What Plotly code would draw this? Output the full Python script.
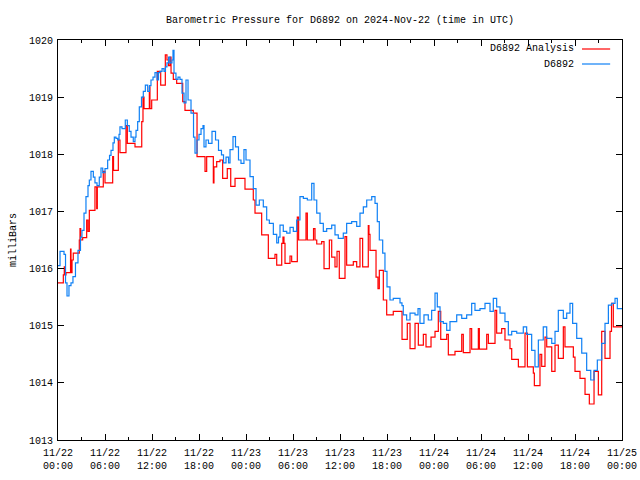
import datetime as dt
import plotly.graph_objects as go

# ---- data (hours after 2024-11-22 00:00 UTC, pressure in mb) ----
analysis_hours = [0.00, 0.68, 0.80, 0.89, 1.02, 1.60, 1.66, 1.79, 1.95, 2.72, 2.81, 2.90, 3.15, 3.66, 3.83,
                  4.00, 4.72, 4.94, 5.02, 5.78, 6.00, 6.98, 7.09, 7.70, 7.91, 8.68, 8.85, 9.83, 10.69, 10.85,
                  10.98, 11.66, 11.74, 11.96, 12.68, 13.11, 13.70, 13.91, 14.11, 14.30, 14.43, 14.72, 15.15,
                  15.92, 16.21, 17.27, 17.75, 18.77, 18.98, 19.83, 19.91, 20.26, 20.68, 21.02, 21.61, 22.05,
                  22.60, 23.87, 24.93, 25.15, 26.00, 26.85, 27.70, 27.92, 28.56, 28.72, 28.85, 28.98, 29.62,
                  29.83, 30.55, 30.72, 31.66, 31.83, 32.62, 32.81, 33.03, 33.66, 33.96, 34.64, 34.94, 35.36,
                  35.62, 35.91, 36.64, 36.85, 37.70, 38.13, 38.55, 38.89, 39.61, 39.70, 39.83, 40.60, 40.85,
                  41.02, 41.53, 41.96, 42.80, 43.66, 43.92, 44.59, 44.94, 45.58, 46.00, 46.64, 46.98, 47.62,
                  48.13, 48.55, 48.86, 49.62, 49.83, 50.68, 51.54, 51.74, 52.60, 52.81, 53.66, 53.79, 54.73,
                  54.94, 55.79, 56.00, 56.64, 57.06, 57.70, 57.92, 58.77, 59.62, 59.92, 60.68, 60.81, 61.53,
                  61.75, 62.17, 62.39, 63.03, 63.45, 63.87, 64.51, 64.72, 65.79, 66.00, 66.64, 67.28, 67.83,
                  68.43, 68.98, 69.41, 69.83, 70.47, 70.66, 70.89, 72.00]
analysis_mb = [1015.75, 1015.89, 1016.03, 1015.89, 1015.93, 1016.34, 1015.93, 1016.15, 1016.27, 1016.50, 1016.70,
               1016.50, 1016.54, 1016.85, 1016.65, 1017.02, 1017.43, 1017.05, 1017.43, 1017.70, 1017.50, 1017.96,
               1017.72, 1018.25, 1018.03, 1018.50, 1018.19, 1018.13, 1018.57, 1019.00, 1018.80, 1019.18, 1018.80,
               1018.95, 1019.45, 1019.21, 1019.74, 1019.65, 1019.55, 1019.70, 1019.42, 1019.31, 1019.24, 1018.92,
               1018.77, 1018.72, 1017.96, 1017.70, 1017.96, 1017.50, 1017.78, 1017.87, 1017.90, 1017.58, 1017.75,
               1017.44, 1017.58, 1017.39, 1017.20, 1016.97, 1016.59, 1016.18, 1016.25, 1016.06, 1016.44, 1016.55,
               1016.44, 1016.09, 1016.22, 1016.12, 1016.90, 1016.50, 1016.97, 1016.50, 1016.70, 1016.50, 1016.43,
               1016.47, 1016.00, 1016.50, 1016.20, 1016.03, 1016.30, 1015.83, 1016.56, 1016.06, 1016.12, 1016.03,
               1016.53, 1016.03, 1016.75, 1016.60, 1016.32, 1015.85, 1015.65, 1015.97, 1015.45, 1015.19, 1015.25,
               1015.25, 1014.76, 1015.04, 1014.60, 1015.04, 1014.66, 1014.85, 1014.63, 1014.80, 1014.90, 1015.25,
               1014.76, 1014.85, 1014.49, 1014.55, 1014.85, 1014.53, 1014.95, 1014.59, 1014.95, 1014.59, 1014.85,
               1014.69, 1015.27, 1014.87, 1014.95, 1014.75, 1014.60, 1014.41, 1014.28, 1014.87, 1014.28, 1014.17,
               1013.95, 1014.50, 1014.29, 1014.80, 1014.63, 1014.20, 1014.66, 1014.43, 1014.98, 1014.63, 1014.45,
               1014.20, 1014.08, 1013.80, 1013.63, 1014.20, 1013.79, 1014.90, 1014.43, 1014.90, 1015.39, 1014.98,
               1014.98]

station_hours = [0.00, 0.26, 0.77, 0.96, 1.15, 1.40, 1.66, 1.91, 2.23, 2.55, 2.87, 3.06, 3.32, 3.57, 3.83, 4.00,
                 4.21, 4.51, 4.72, 4.98, 5.27, 5.49, 5.71, 6.00, 6.34, 6.58, 6.77, 7.02, 7.19, 7.40, 7.62, 7.79,
                 7.91, 8.17, 8.59, 8.85, 9.10, 9.32, 9.61, 9.83, 9.96, 10.17, 10.38, 10.66, 10.89, 11.15, 11.45,
                 11.68, 11.87, 12.13, 12.38, 12.64, 12.83, 13.02, 13.28, 13.53, 13.72, 13.91, 14.11, 14.30, 14.55,
                 14.68, 14.81, 15.06, 15.32, 15.57, 15.83, 16.09, 16.34, 16.60, 16.98, 17.30, 17.49, 17.75, 18.00,
                 18.26, 18.51, 18.64, 18.89, 19.21, 19.66, 20.11, 20.49, 20.87, 21.13, 21.45, 21.77, 21.96, 22.34,
                 22.66, 23.04, 23.36, 23.74, 24.00, 24.51, 24.93, 25.28, 25.70, 26.21, 26.64, 26.98, 27.49, 27.92,
                 28.15, 28.34, 28.76, 29.20, 29.62, 30.04, 30.47, 30.89, 31.32, 31.83, 32.39, 32.68, 33.03, 33.45,
                 33.87, 34.30, 34.94, 35.36, 35.78, 36.42, 36.85, 37.49, 38.13, 38.55, 38.98, 39.41, 40.05, 40.47,
                 40.76, 41.02, 41.45, 41.74, 42.00, 42.38, 42.80, 43.66, 43.91, 44.08, 44.51, 44.94, 45.58, 45.96,
                 46.21, 46.72, 47.27, 47.70, 48.13, 48.42, 48.77, 49.19, 49.62, 50.04, 50.90, 51.54, 52.17, 52.81,
                 53.23, 53.87, 54.51, 55.15, 55.57, 56.00, 56.43, 57.06, 57.49, 57.92, 58.56, 59.40, 59.83, 60.47,
                 60.89, 61.32, 61.95, 62.39, 63.03, 63.45, 63.87, 64.51, 64.94, 65.36, 65.70, 66.22, 66.86, 67.49,
                 68.01, 68.43, 68.85, 69.41, 69.83, 70.26, 70.69, 71.11, 71.40, 72.00]
station_mb = [1016.05, 1016.30, 1016.25, 1015.75, 1015.52, 1015.70, 1015.75, 1015.86, 1016.10, 1016.32, 1016.55,
              1016.67, 1016.97, 1017.26, 1017.45, 1017.55, 1017.70, 1017.60, 1017.50, 1017.45, 1017.60, 1017.76,
              1017.68, 1017.75, 1017.90, 1017.98, 1018.07, 1018.20, 1018.30, 1018.28, 1018.25, 1018.35, 1018.48,
              1018.45, 1018.60, 1018.50, 1018.40, 1018.30, 1018.22, 1018.30, 1018.42, 1018.57, 1018.83, 1019.00,
              1019.10, 1019.21, 1019.10, 1019.20, 1019.30, 1019.35, 1019.43, 1019.30, 1019.43, 1019.45, 1019.50,
              1019.45, 1019.53, 1019.60, 1019.70, 1019.60, 1019.65, 1019.82, 1019.42, 1019.31, 1019.35, 1019.31,
              1019.07, 1018.90, 1019.30, 1018.95, 1018.72, 1018.30, 1018.02, 1018.25, 1018.35, 1018.45, 1018.50,
              1018.13, 1018.25, 1018.19, 1018.40, 1018.25, 1018.07, 1017.99, 1017.85, 1017.95, 1017.85, 1018.08,
              1018.31, 1018.13, 1017.90, 1017.84, 1018.08, 1017.90, 1017.61, 1017.40, 1017.11, 1017.20, 1017.08,
              1016.85, 1016.79, 1016.60, 1016.45, 1016.55, 1016.76, 1016.65, 1016.62, 1016.72, 1016.65, 1016.85,
              1017.26, 1017.23, 1017.20, 1017.49, 1017.20, 1016.97, 1016.79, 1016.65, 1016.70, 1016.76, 1016.59,
              1016.53, 1016.62, 1016.79, 1016.82, 1016.74, 1016.97, 1017.08, 1017.20, 1017.26, 1017.14, 1016.82,
              1016.50, 1016.27, 1015.95, 1015.68, 1015.45, 1015.48, 1015.40, 1015.35, 1015.19, 1015.10, 1015.22,
              1015.19, 1015.30, 1015.04, 1015.19, 1015.10, 1015.27, 1015.57, 1015.33, 1015.07, 1015.04, 1014.92,
              1015.07, 1015.19, 1015.13, 1015.19, 1015.39, 1015.27, 1015.30, 1015.39, 1015.25, 1015.48, 1015.33,
              1015.22, 1015.07, 1014.84, 1014.90, 1014.87, 1014.98, 1014.85, 1014.57, 1014.28, 1014.75, 1014.98,
              1014.78, 1014.69, 1014.90, 1015.27, 1015.13, 1015.22, 1015.39, 1015.04, 1014.78, 1014.52, 1014.22,
              1014.05, 1014.22, 1014.40, 1014.69, 1015.04, 1015.36, 1015.39, 1015.48, 1015.30, 1015.30]

tick_hours = [0, 6, 12, 18, 24, 30, 36, 42, 48, 54, 60, 66, 72]
tick_labels = ["11/22<br>00:00", "11/22<br>06:00", "11/22<br>12:00", "11/22<br>18:00",
               "11/23<br>00:00", "11/23<br>06:00", "11/23<br>12:00", "11/23<br>18:00",
               "11/24<br>00:00", "11/24<br>06:00", "11/24<br>12:00", "11/24<br>18:00",
               "11/25<br>00:00"]
y_ticks = [1013, 1014, 1015, 1016, 1017, 1018, 1019, 1020]

series_names = ["D6892 Analysis", "D6892"]
series_colors = ["#ff0000", "#0f80f5"]

start = dt.datetime(2024, 11, 22, 0, 0)


def to_time(hours):
    return [start + dt.timedelta(hours=h) for h in hours]


FONT = "Liberation Mono, DejaVu Sans Mono, monospace"

fig = go.Figure()
fig.add_trace(go.Scatter(x=to_time(analysis_hours), y=analysis_mb, mode="lines",
                         line=dict(color=series_colors[0], width=1.2, shape="hv"),
                         name=series_names[0], showlegend=False, hoverinfo="skip"))
fig.add_trace(go.Scatter(x=to_time(station_hours), y=station_mb, mode="lines",
                         line=dict(color=series_colors[1], width=1.2, shape="hv"),
                         name=series_names[1], showlegend=False, hoverinfo="skip"))

# gnuplot-style legend: text right-aligned, sample line to the right
legend_y = [0.9775, 0.94]
for name, color, ly in zip(series_names, series_colors, legend_y):
    fig.add_annotation(xref="paper", yref="paper", x=0.918, y=ly, text=name, showarrow=False,
                       xanchor="right", yanchor="middle", font=dict(family=FONT, size=10, color="black"))
    fig.add_shape(type="line", xref="paper", yref="paper", x0=0.929, x1=0.979, y0=ly, y1=ly,
                  line=dict(color=color, width=1.2))

fig.update_layout(
    width=640, height=480,
    margin=dict(l=58, r=18, t=40, b=40),
    paper_bgcolor="white", plot_bgcolor="white",
    font=dict(family=FONT, size=10, color="black"),
    title=dict(text="Barometric Pressure for D6892 on 2024-Nov-22 (time in UTC)",
               x=0.5, xref="paper", xanchor="center", y=0.96, yanchor="middle",
               font=dict(family=FONT, size=10, color="black")),
    showlegend=False,
    hovermode=False,
)
fig.update_xaxes(
    range=[start, start + dt.timedelta(hours=72)],
    tickvals=to_time(tick_hours), ticktext=tick_labels,
    ticks="inside", ticklen=6, tickcolor="black", tickwidth=1,
    showline=True, linecolor="black", linewidth=1, mirror="ticks",
    showgrid=False, zeroline=False, automargin=False, ticklabelstandoff=3,
    minor=dict(ticks="inside", ticklen=3, tickcolor="black", dtick=3 * 3600 * 1000,
               tick0=start, showgrid=False),
    tickfont=dict(family=FONT, size=10, color="black"),
)
fig.update_yaxes(
    range=[1013, 1020], tickvals=y_ticks, ticktext=[str(v) for v in y_ticks],
    ticks="inside", ticklen=6, tickcolor="black", tickwidth=1,
    showline=True, linecolor="black", linewidth=1, mirror="ticks",
    showgrid=False, zeroline=False, automargin=False, ticklabelstandoff=2,
    title=dict(text="milliBars", font=dict(family=FONT, size=10, color="black"), standoff=10),
    tickfont=dict(family=FONT, size=10, color="black"),
)

fig.write_html("out.html", config={"displayModeBar": False, "staticPlot": True},
               post_script="document.body.style.margin='0';document.body.style.overflow='hidden';")
